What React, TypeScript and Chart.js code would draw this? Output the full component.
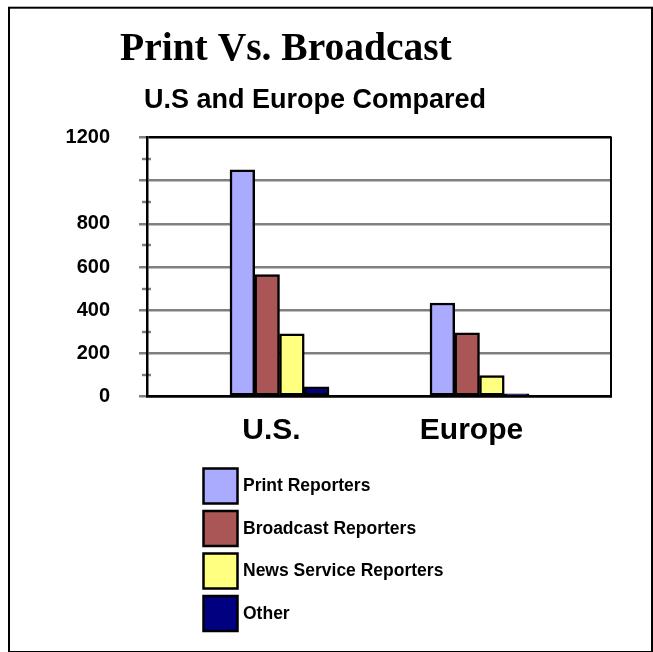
import React, { useEffect, useRef } from 'react';
import { Chart, registerables } from 'chart.js';

Chart.register(...registerables);

// ---- data ----
const categories = ['U.S.', 'Europe'];
const categoryPositions = [1, 2];
const seriesNames = ['Print Reporters', 'Broadcast Reporters', 'News Service Reporters', 'Other'];
const printReporters = [1050, 433];
const broadcastReporters = [565, 295];
const newsServiceReporters = [290, 97];
const otherReporters = [45, 12];
const seriesColors = ['#AAAAFF', '#AA5656', '#FFFF80', '#000080'];
const hiddenYLabels = [1000];
const titleText = 'Print Vs. Broadcast';
const subtitleText = 'U.S and Europe Compared';

const SANS = '"Liberation Sans", Arial, sans-serif';
const SERIF = '"Liberation Serif", "Times New Roman", serif';

const decorPlugin = {
  id: 'decor',
  beforeDraw(chart: any) {
    const ctx = chart.ctx;
    const area = chart.chartArea;
    const y = chart.scales.y;
    ctx.save();
    ctx.fillStyle = '#fff';
    ctx.fillRect(0, 0, chart.width, chart.height);
    // minor ticks
    ctx.strokeStyle = '#808080';
    ctx.lineWidth = 2.5;
    for (let v = 100; v < 1200; v += 200) {
      const py = Math.round(y.getPixelForValue(v));
      ctx.beginPath();
      ctx.moveTo(area.left - 5, py);
      ctx.lineTo(area.left + 4, py);
      ctx.stroke();
    }
    ctx.restore();
  },
  afterDraw(chart: any) {
    const ctx = chart.ctx;
    const area = chart.chartArea;
    ctx.save();
    // right border
    ctx.strokeStyle = '#000';
    ctx.lineWidth = 2;
    ctx.beginPath();
    ctx.moveTo(area.right, area.top - 1);
    ctx.lineTo(area.right, area.bottom + 1);
    ctx.stroke();

    // titles
    ctx.fillStyle = '#000';
    ctx.textAlign = 'left';
    ctx.textBaseline = 'alphabetic';
    ctx.font = `bold 39.5px ${SERIF}`;
    ctx.fillText(titleText, 120, 60);
    ctx.font = `bold 27px ${SANS}`;
    ctx.fillText(subtitleText, 144, 108);

    // legend
    chart.data.datasets.forEach((ds: any, i: number) => {
      const bx = 203.5;
      const by = 468.5 + i * 42.5;
      ctx.fillStyle = ds.backgroundColor;
      ctx.fillRect(bx, by, 34, 35);
      ctx.strokeStyle = '#000';
      ctx.lineWidth = 2.5;
      ctx.strokeRect(bx, by, 34, 35);
      ctx.fillStyle = '#000';
      ctx.font = `bold 17.5px ${SANS}`;
      ctx.fillText(ds.label, 243, by + 22.5);
    });

    // outer border
    ctx.strokeStyle = '#000';
    ctx.lineWidth = 2;
    ctx.strokeRect(9, 7.7, 643, 644.3);
    ctx.restore();
  },
};

export default function App() {
  const ref = useRef<HTMLCanvasElement>(null);
  useEffect(() => {
    document.body.style.margin = '0';
    const seriesValues = [printReporters, broadcastReporters, newsServiceReporters, otherReporters];
    const chart = new Chart(ref.current as HTMLCanvasElement, {
      type: 'bar',
      data: {
        datasets: seriesNames.map((name, i) => ({
          label: name,
          data: categoryPositions.map((x, j) => ({ x, y: seriesValues[i][j] })),
          backgroundColor: seriesColors[i],
          borderColor: '#000',
          borderWidth: 2.5,
          borderSkipped: false,
          barThickness: 24.75,
        })),
      },
      options: {
        responsive: false,
        animation: false,
        devicePixelRatio: 1,
        layout: { padding: { left: 20, top: 137.5, right: 42, bottom: 195.5 } },
        plugins: {
          legend: { display: false },
          title: { display: false },
          tooltip: { enabled: false },
        },
        scales: {
          x: {
            type: 'linear',
            min: 0.3375,
            max: 2.6575,
            offset: false,
            afterBuildTicks: (axis: any) => {
              axis.ticks = categoryPositions.map((v) => ({ value: v }));
            },
            afterFit: (scale: any) => {
              scale.height = 60;
            },
            grid: { display: false },
            border: { display: true, color: '#000', width: 2.5 },
            ticks: {
              autoSkip: false,
              maxRotation: 0,
              padding: 8,
              labelOffset: -8,
              color: '#000',
              font: { family: SANS, weight: 'bold', size: 30 },
              callback: (v: any) => {
                const idx = categoryPositions.indexOf(Number(v));
                return idx >= 0 ? categories[idx] : '';
              },
            },
          },
          y: {
            min: 0,
            max: 1200,
            afterFit: (scale: any) => {
              scale.width = 127;
            },
            grid: {
              color: (c: any) => (c.tick && (c.tick.value === 1200 || c.tick.value === 0) ? '#000' : '#808080'),
              tickColor: '#808080',
              lineWidth: 2.5,
              tickLength: 8,
            },
            border: { display: true, color: '#000', width: 2.5 },
            ticks: {
              stepSize: 200,
              padding: 29,
              color: '#000',
              font: { family: SANS, weight: 'bold', size: 20 },
              callback: (v: any) => (hiddenYLabels.includes(Number(v)) ? '' : String(v)),
            },
          },
        },
      },
      plugins: [decorPlugin],
    } as any);
    return () => chart.destroy();
  }, []);
  return (
    <div style={{ width: 653, height: 652 }}>
      <canvas ref={ref} width={653} height={652} style={{ display: 'block' }} />
    </div>
  );
}
